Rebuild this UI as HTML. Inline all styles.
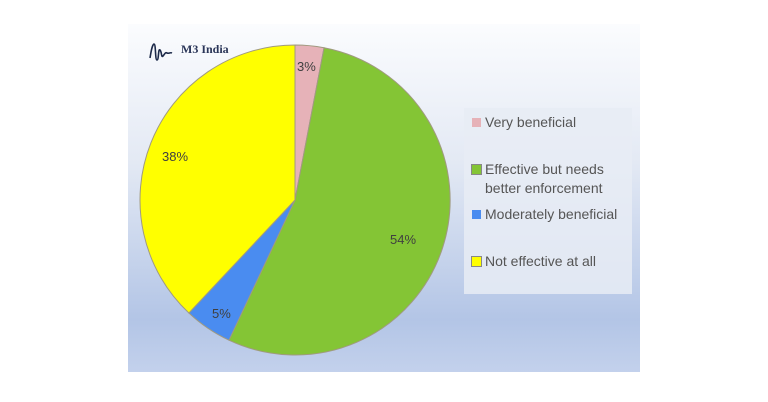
<!DOCTYPE html>
<html><head><style>
body{margin:0;width:768px;height:402px;background:#fff;position:relative;overflow:hidden;font-family:"Liberation Sans",sans-serif}
#chart{position:absolute;left:128px;top:24px;width:512px;height:348px;background:linear-gradient(#fbfcfe 0%,#e3e9f4 40%,#b3c5e6 85%,#c3d1ec 100%)}
#leg{position:absolute;left:464px;top:108px;width:168px;height:186px;background:rgba(232,236,244,0.85);color:#555;font-size:14px}
.it{position:absolute;left:8px;line-height:19px}
.sw{display:inline-block;width:9px;height:9px;margin-right:4px;vertical-align:0px}
</style></head><body>
<div id="chart"></div>
<svg width="768" height="402" style="position:absolute;left:0;top:0">
<path d="M295,200 L295,45 A155,155 0 0 1 324.05,47.74 Z" fill="#e6b2b8" stroke="#a09a80" stroke-width="1"/>
<path d="M295,200 L324.05,47.74 A155,155 0 1 1 229.0,340.2 Z" fill="#84c535" stroke="#a09a80" stroke-width="1"/>
<path d="M295,200 L229.0,340.2 A155,155 0 0 1 188.9,313.0 Z" fill="#4a8cf0" stroke="#a09a80" stroke-width="1"/>
<path d="M295,200 L188.9,313.0 A155,155 0 0 1 295,45 Z" fill="#ffff00" stroke="#a09a80" stroke-width="1"/>
<g font-family="Liberation Sans, sans-serif" font-size="13" fill="#404040">
<text x="297" y="71">3%</text>
<text x="390" y="244">54%</text>
<text x="212" y="318">5%</text>
<text x="162" y="161">38%</text>
</g>
<path d="M150,58 C151,52 152,45 154,44 C156,44 155,60 157,60 C159,60 158,48 160,50 C162,52 161,58 163,56 C165,54 165,52 167,53 C169,54 170,52 172,53" fill="none" stroke="#1d2a4a" stroke-width="1.6"/>
<text x="181" y="53" font-family="Liberation Serif, serif" font-size="12" font-weight="bold" fill="#2a3558">M3 India</text>
</svg>
<div id="leg">
<div class="it" style="top:5px"><span class="sw" style="background:#e6b2b8"></span>Very beneficial</div>
<div class="it" style="top:52px"><span class="sw" style="background:#84c535;outline:1px solid #888"></span>Effective but needs<br><span style="margin-left:13px">better enforcement</span></div>
<div class="it" style="top:97px"><span class="sw" style="background:#4a8cf0"></span>Moderately beneficial</div>
<div class="it" style="top:144px"><span class="sw" style="background:#ffff00;outline:1px solid #888"></span>Not effective at all</div>
</div>
</body></html>
